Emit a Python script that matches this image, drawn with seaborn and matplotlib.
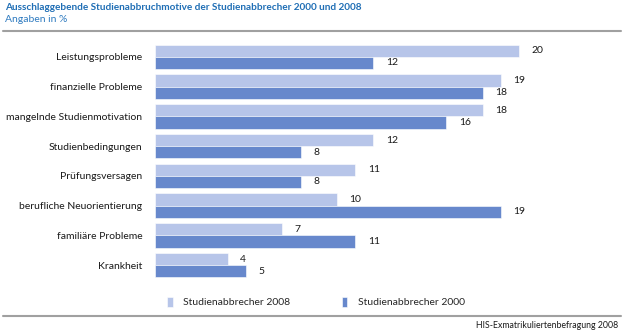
import matplotlib
matplotlib.use("Agg")
import matplotlib.pyplot as plt
import seaborn as sns
import pandas as pd
from matplotlib.lines import Line2D

categories = ["Leistungsprobleme", "finanzielle Probleme", "mangelnde Studienmotivation",
              "Studienbedingungen", "Prüfungsversagen", "berufliche Neuorientierung",
              "familiäre Probleme", "Krankheit"]
values_2008 = [20, 19, 18, 12, 11, 10, 7, 4]
values_2000 = [12, 18, 16, 8, 8, 19, 11, 5]
series = ["Studienabbrecher 2008", "Studienabbrecher 2000"]
colors = ["#B7C5E9", "#6788CC"]

df = pd.DataFrame({
    "Motiv": categories * 2,
    "Wert": values_2008 + values_2000,
    "Gruppe": [series[0]] * len(categories) + [series[1]] * len(categories),
})

sns.set_style("white")
plt.rcParams["font.family"] = ["Lato", "DejaVu Sans"]

W, H = 625, 336
fig = plt.figure(figsize=(W / 100, H / 100), dpi=100)
ax = fig.add_axes([155 / W, (H - 280) / H, (620 - 155) / W, (280 - 42) / H])

sns.barplot(data=df, x="Wert", y="Motiv", hue="Gruppe", orient="h",
            palette=colors, saturation=1, width=0.82, gap=0.0, ax=ax, legend=True,
            edgecolor="white", linewidth=0.4)

for cont in ax.containers:
    ax.bar_label(cont, padding=9, fontsize=7.5, color="#1A1A1A")

ax.set_xlim(0, (620 - 155) / 18.2)
ax.set_xlabel("")
ax.set_ylabel("")
ax.set_xticks([])
ax.tick_params(axis="y", length=0, pad=9, labelsize=7.5, labelcolor="#1A1A1A")
for s in ax.spines.values():
    s.set_visible(False)

handles, labels = ax.get_legend_handles_labels()
ax.get_legend().remove()
fig.legend(handles, labels, loc="center left", bbox_to_anchor=(158 / W, 1 - 302 / H),
           ncol=2, frameon=False, handlelength=0.5, handleheight=1.1,
           columnspacing=5.0, handletextpad=1.0, fontsize=7.5)

fig.text(5 / W, 1 - 7 / H, "Ausschlaggebende Studienabbruchmotive der Studienabbrecher 2000 und 2008",
         color="#1F6EB5", fontsize=7.2, fontweight="bold", va="center", ha="left")
fig.text(5 / W, 1 - 20 / H, "Angaben in %", color="#2F7BC0", fontsize=7.5, va="center", ha="left")
fig.text(618 / W, 1 - 326 / H, "HIS-Exmatrikuliertenbefragung 2008", color="#1A1A1A",
         fontsize=6.3, va="center", ha="right")

for yy in (31, 316):
    fig.add_artist(Line2D([3 / W, 621 / W], [1 - yy / H, 1 - yy / H], color="#A0A0A0", lw=1.5))

fig.savefig("out.png", dpi=100, facecolor="white")
